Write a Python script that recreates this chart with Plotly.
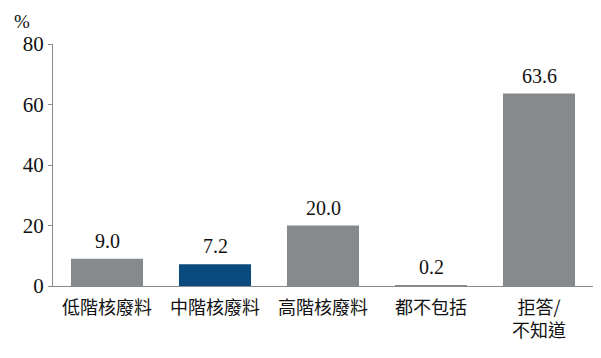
import plotly.graph_objects as go

categories = ["低階核廢料", "中階核廢料", "高階核廢料", "都不包括", "拒答/<br>不知道"]
values = [9.0, 7.2, 20.0, 0.2, 63.6]
colors = ["#878a8d", "#0b4a7e", "#878a8d", "#878a8d", "#878a8d"]
y_ticks = [0, 20, 40, 60, 80]

serif = "Liberation Serif"
cjk = "Noto Sans CJK TC"

fig = go.Figure()
fig.add_trace(go.Bar(
    x=categories, y=values, marker=dict(color=colors, line=dict(width=0)),
    width=0.667,
))

for c, v in zip(categories, values):
    fig.add_annotation(x=c, y=v, text=f"{v:.1f}", showarrow=False,
                       yanchor="bottom", yshift=5,
                       font=dict(family=serif, size=20, color="#111111"))

fig.add_annotation(xref="paper", yref="paper", x=-0.058, y=1.04, text="%",
                   showarrow=False, xanchor="center", yanchor="bottom",
                   font=dict(family=serif, size=19, color="#111111"))

fig.update_layout(
    width=593, height=350,
    margin=dict(l=45, r=8, t=36, b=72, autoexpand=False),
    plot_bgcolor="white", paper_bgcolor="white",
    showlegend=False,
    font=dict(family=serif),
    xaxis=dict(showline=True, linecolor="#8a8a8a", linewidth=1, ticks="",
               automargin=False,
               tickfont=dict(family=cjk, size=18, color="#111111"),
               ticklabelstandoff=5),
    yaxis=dict(range=[0, 80], tickvals=y_ticks, showgrid=False, zeroline=False,
               automargin=False,
               showline=True, linecolor="#8a8a8a", linewidth=1,
               ticks="outside", ticklen=4, tickcolor="#8a8a8a",
               tickfont=dict(family=serif, size=21, color="#111111")),
)

fig.write_html("out.html")
